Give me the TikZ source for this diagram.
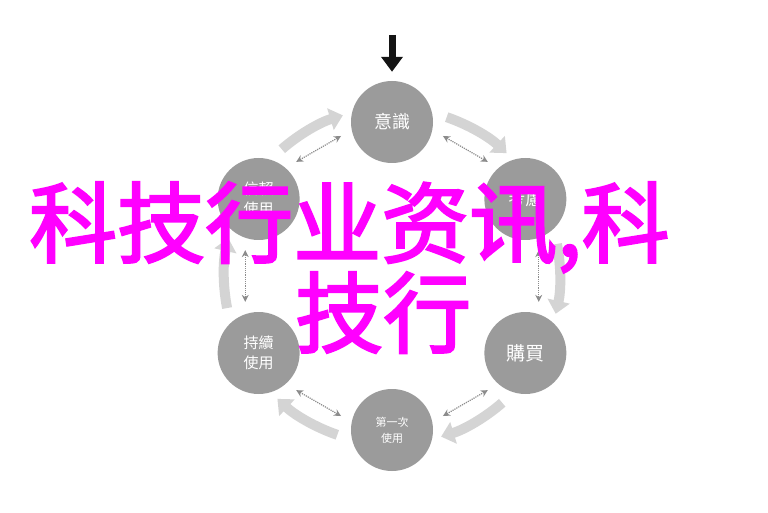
\documentclass[tikz,border=0pt]{standalone}
\usepackage{fontspec}
\newfontfamily\tcfont{Noto Sans CJK TC}
\newfontfamily\scfont{Noto Sans CJK SC}[FakeBold=2.5]
\usetikzlibrary{arrows.meta,calc}
\definecolor{stagegray}{RGB}{155,155,155}
\definecolor{flowgray}{RGB}{212,212,212}
\definecolor{dotgray}{RGB}{140,140,140}
\definecolor{overlay}{RGB}{255,0,255}
\tikzset{
  stage/.style={circle, fill=stagegray, minimum size=82pt, inner sep=0pt, text=white, align=center},
  flowarrow/.style={draw=flowgray, line width=10pt, -{Triangle[width=22pt,length=13pt]}},
  linkarrow/.style={draw=dotgray, line width=1.2pt, densely dotted, {Stealth[length=7pt,width=7pt]}-{Stealth[length=7pt,width=7pt]}},
  bigtext/.style={text=overlay, inner sep=0pt, anchor=base west, font=\scfont\fontsize{88}{88}\selectfont}
}
\begin{document}
\begin{tikzpicture}[x=1pt,y=1pt]
\useasboundingbox (0,0) rectangle (768,512);
\fill[white] (0,0) rectangle (768,512);
\coordinate (C) at (392,236);
% stages
\node[stage, font=\tcfont\fontsize{18}{20}\selectfont] (aw) at ($(C)+(90:154)$) {意識};
\node[stage, font=\tcfont\fontsize{17}{20}\selectfont] (co) at ($(C)+(30:154)$) {考慮};
\node[stage, font=\tcfont\fontsize{19}{20}\selectfont] (pu) at ($(C)+(-30:154)$) {購買};
\node[stage, font=\tcfont\fontsize{11}{16}\selectfont] (fu) at ($(C)+(-90:154)$) {第一次\\使用};
\node[stage, font=\tcfont\fontsize{15}{20}\selectfont] (cu) at ($(C)+(-150:154)$) {持續\\使用};
\node[stage, font=\tcfont\fontsize{15}{20}\selectfont] (tu) at ($(C)+(150:154)$) {信賴\\使用};
% flow arrows (clockwise)
\foreach \g in {120,60,0,-60,-120,180}{
  \coordinate (fs) at ($(C)+(\g+11:168)$);
  \draw[flowarrow] (fs) arc[start angle=\g+11, end angle=\g-13, radius=168];
  \coordinate (da) at ($(C)+(\g+10:149)$);
  \coordinate (db) at ($(C)+(\g-10:149)$);
  \draw[linkarrow] (da) -- (db);
}
% entry arrow
\coordinate (ks) at (392,477);
\draw[draw=black!92, line width=7pt, -{Triangle[width=21pt,length=15pt]}] (ks) -- ([yshift=9pt]aw.north);
% overlay text
\node[bigtext] (t1) at (29,256) {科技行业资讯,科};
\node[bigtext] (t2) at (295,166) {技行};
\end{tikzpicture}
\end{document}
